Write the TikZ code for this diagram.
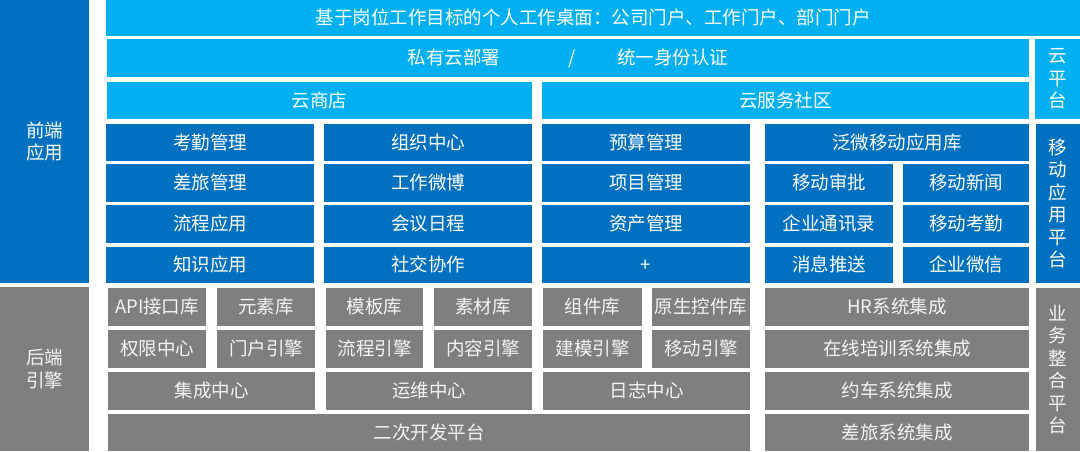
\documentclass[tikz,border=0pt]{standalone}
\usepackage{fontspec}
\setmainfont{Noto Sans CJK SC}
\definecolor{lblue}{HTML}{00B0F0}
\definecolor{dblue}{HTML}{0070C0}
\definecolor{gbox}{HTML}{7F7F7F}
\definecolor{gtext}{HTML}{F4F4F4}
\newcommand\bx[7]{%
  \pgfmathsetmacro\bxw{#4-#2}\pgfmathsetmacro\bxh{#5-#3}%
  \node[#6, minimum width=\bxw pt, minimum height=\bxh pt] (#1) at ({(#2+#4)/2},{(#3+#5)/2}) {#7};}
\begin{document}
\begin{tikzpicture}[x=1pt,y=-1pt,
  base/.style={inner sep=0pt, outer sep=0pt, font=\fontsize{18.5}{22.5}\selectfont, text height=15pt, text depth=1.8pt},
  lb/.style={base, fill=lblue, text=white},
  db/.style={base, fill=dblue, text=white},
  gb/.style={base, fill=gbox, text=gtext},
  vlb/.style={inner sep=0pt, outer sep=0pt, fill=lblue, text=white, align=center, font=\fontsize{18.5}{22.5}\selectfont},
  vdb/.style={inner sep=0pt, outer sep=0pt, fill=dblue, text=white, align=center, font=\fontsize{18.5}{22.5}\selectfont},
  vgb/.style={inner sep=0pt, outer sep=0pt, fill=gbox, text=gtext, align=center, font=\fontsize{18.5}{22.5}\selectfont}]
\useasboundingbox (0,0) rectangle (1080,451);
% left panels
\bx{front}{0}{0}{89}{283}{vdb}{前端\\应用}
\bx{back}{0}{287}{89}{451}{vgb}{后端\\引擎}
% light blue
\bx{title}{106}{0}{1080}{36}{lb}{基于岗位工作目标的个人工作桌面：公司门户、工作门户、部门门户}
\bx{cloud}{107}{39}{1029}{77}{lb}{私有云部署\hspace{68pt}/\hspace{42pt}统一身份认证}
\bx{store}{107}{82}{532}{119}{lb}{云商店}
\bx{community}{542}{82}{1029}{119}{lb}{云服务社区}
\bx{cloudp}{1035}{39}{1080}{119}{vlb}{云\\平\\台}
% dark blue rows
\bx{b11}{106}{124}{314}{161}{db}{考勤管理}
\bx{b12}{324}{124}{532}{161}{db}{组织中心}
\bx{b13}{542}{124}{750}{161}{db}{预算管理}
\bx{b14}{765}{124}{1029}{161}{db}{泛微移动应用库}
\bx{b21}{106}{164}{314}{202}{db}{差旅管理}
\bx{b22}{324}{164}{532}{202}{db}{工作微博}
\bx{b23}{542}{164}{750}{202}{db}{项目管理}
\bx{b24}{765}{164}{893}{202}{db}{移动审批}
\bx{b25}{903}{164}{1029}{202}{db}{移动新闻}
\bx{b31}{106}{205}{314}{243}{db}{流程应用}
\bx{b32}{324}{205}{532}{243}{db}{会议日程}
\bx{b33}{542}{205}{750}{243}{db}{资产管理}
\bx{b34}{765}{205}{893}{243}{db}{企业通讯录}
\bx{b35}{903}{205}{1029}{243}{db}{移动考勤}
\bx{b41}{106}{246.5}{314}{283}{db}{知识应用}
\bx{b42}{324}{246.5}{532}{283}{db}{社交协作}
\bx{b43}{542}{246.5}{750}{283}{db}{+}
\bx{b44}{765}{246.5}{893}{283}{db}{消息推送}
\bx{b45}{903}{246.5}{1029}{283}{db}{企业微信}
\bx{mobile}{1036}{124}{1080}{283}{vdb}{移\\动\\应\\用\\平\\台}
% gray rows
\bx{g11}{108}{288}{206}{326}{gb}{API接口库}
\bx{g12}{217}{288}{315}{326}{gb}{元素库}
\bx{g13}{326}{288}{423}{326}{gb}{模板库}
\bx{g14}{434}{288}{532}{326}{gb}{素材库}
\bx{g15}{543}{288}{642}{326}{gb}{组件库}
\bx{g16}{652}{288}{750}{326}{gb}{原生控件库}
\bx{g17}{765}{288}{1029}{326}{gb}{HR系统集成}
\bx{g21}{108}{330}{206}{368}{gb}{权限中心}
\bx{g22}{217}{330}{315}{368}{gb}{门户引擎}
\bx{g23}{326}{330}{423}{368}{gb}{流程引擎}
\bx{g24}{434}{330}{532}{368}{gb}{内容引擎}
\bx{g25}{543}{330}{642}{368}{gb}{建模引擎}
\bx{g26}{652}{330}{750}{368}{gb}{移动引擎}
\bx{g27}{765}{330}{1029}{368}{gb}{在线培训系统集成}
\bx{g31}{108}{372}{315}{410}{gb}{集成中心}
\bx{g32}{326}{372}{532}{410}{gb}{运维中心}
\bx{g33}{543}{372}{750}{410}{gb}{日志中心}
\bx{g34}{765}{372}{1029}{410}{gb}{约车系统集成}
\bx{g41}{108}{414}{750}{451}{gb}{二次开发平台}
\bx{g42}{765}{414}{1029}{451}{gb}{差旅系统集成}
\bx{biz}{1036}{288}{1080}{451}{vgb}{业\\务\\整\\合\\平\\台}
\end{tikzpicture}
\end{document}
